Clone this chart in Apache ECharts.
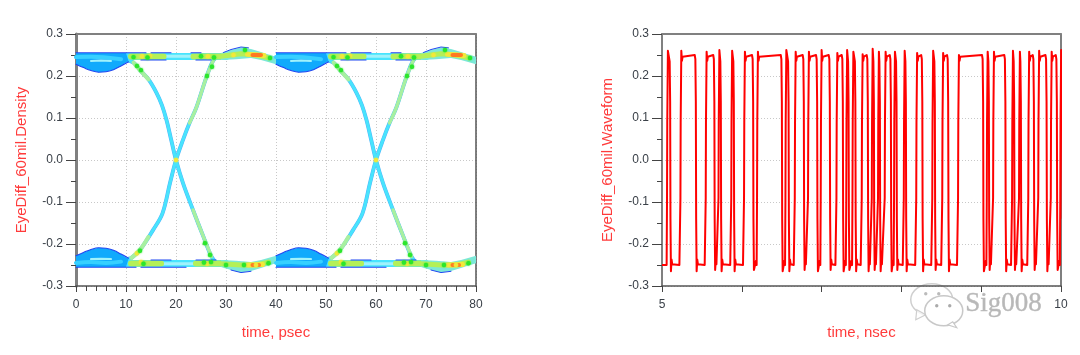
<!DOCTYPE html>
<html><head><meta charset="utf-8">
<style>html,body{margin:0;padding:0;background:#fff}#c{width:1080px;height:355px}</style>
<script src="https://cdn.jsdelivr.net/npm/echarts@6/dist/echarts.min.js"></script>
</head><body><div id="c"></div>
<script>
// ---------- tick labels / axis text
const eyeXTicks = [0, 10, 20, 30, 40, 50, 60, 70, 80];
const yTickValues = [-0.3, -0.2, -0.1, 0, 0.1, 0.2, 0.3];
const wavePeriodLabels = [5, 10];
const eyePeriod = 40;

// ---------- eye diagram, one 40 ps period (x ps, y V); the second period repeats it
const lensTop = [[0,.255],[10,.255],[10.5,.236],[9,.224],[7.5,.215],[6,.21],[4.5,.209],[3,.213],[1.5,.22],[0,.228]];
const lensTopEdge = [[0,.228],[1.5,.22],[3,.213],[4.5,.209],[6,.21],[7.5,.215],[9,.224],[10.5,.234]];
const lensTopMid = [[0,.245],[3,.246],[6,.244],[9,.24]];
const lensTopCore = [[3,.236],[5,.237],[7,.236]];
const lensBottom = [[0,-.255],[10,-.255],[10.5,-.236],[9,-.224],[7.5,-.215],[6,-.21],[4.5,-.209],[3,-.213],[1.5,-.22],[0,-.228]];
const lensBottomEdge = [[0,-.228],[1.5,-.22],[3,-.213],[4.5,-.209],[6,-.21],[7.5,-.215],[9,-.224],[10.5,-.234]];
const lensBottomMid = [[0,-.245],[3,-.243],[6,-.245],[9,-.242]];
const lensBottomCore = [[3,-.236],[5,-.235],[7,-.236]];
const railTop = [[9,.2465],[30,.2465]];
const railBottom = [[9,-.2465],[30,-.2465]];
const railTopLime = [[11,.2465],[17.5,.2465]];
const railTopLime2 = [[23.5,.2465],[29.5,.2465]];
const railBottomLime = [[11,-.2465],[17,-.2465]];
const railBottomLime2 = [[24,-.2465],[29.5,-.2465]];
const railTopCore = [[17,.247],[23.5,.247]];
const railBottomCore = [[17,-.247],[23.5,-.247]];
const topBlueEdges = [[[0,.2555],[14,.2555]],[[15,.2555],[19,.2555]],[[23,.2555],[25,.2555]],[[13,.238],[18,.238]],[[24,.238],[27,.238]]];
const bottomBlueEdges = [[[0,-.2555],[12,-.2555]],[[15,-.238],[19,-.238]],[[13,-.2555],[22,-.2555]],[[24,-.238],[28,-.238]]];
const bumpTop = [[29,.255],[31,.262],[33,.268],[35,.264],[37,.257],[38.5,.251],[40,.246],[40,.228],[37,.238],[35,.243],[32,.24],[29,.238]];
const bumpBottom = [[29,-.255],[31,-.262],[33,-.268],[35,-.264],[37,-.257],[38.5,-.251],[40,-.246],[40,-.228],[37,-.238],[35,-.243],[32,-.24],[29,-.238]];
const bumpTopEdge = [[29.5,.256],[31,.263],[33,.269],[34.5,.267]];
const bumpBottomEdge = [[31,-.262],[33,-.268],[35,-.265]];
const bumpTopLime = [[29,.247],[33,.253],[36,.25],[38.5,.243]];
const bumpBottomLime = [[29,-.247],[33,-.25],[36,-.25],[38.5,-.243]];
const bumpTopHot = [[34.3,.252],[37.6,.249]];
const bumpBottomHot = [[34.3,-.25],[37.3,-.249]];
const bumpTopRed = [[35.3,.25],[37,.25]];
const bumpBottomRed = [[35.3,-.25],[36.6,-.25]];
const fallTrace = [[10,.238],[11.5,.232],[12.8,.214],[14.5,.192],[16.1,.16],[17.2,.13],[18.1,.095],[19,.05],[20,0],[21.4,-.055],[23.4,-.119],[25.5,-.183],[27.1,-.23],[28.2,-.246]];
const riseTrace = [[10.5,-.235],[11.1,-.233],[12.8,-.214],[15.4,-.167],[17.3,-.127],[18.8,-.055],[20,0],[21.4,.048],[22.7,.088],[24.1,.126],[26.1,.198],[27.5,.238],[28.5,.247]];
const fallTopLime = [[11.5,.232],[12.8,.214],[14.5,.192]];
const fallBottomLime = [[23.4,-.119],[25.5,-.183],[27.1,-.23]];
const riseTopLime = [[22.7,.088],[24.1,.126],[26.1,.198],[27.5,.238]];
const riseBottomLime = [[11.1,-.233],[12.8,-.214],[14.5,-.183]];
const greenSpots = [[12.2,.224],[13,.214],[11.5,.245],[14.3,.244],[25,.247],[27.6,.244],[26.2,.2],[27.2,.222],[33.8,.262],[38.8,.243],
  [12.8,-.216],[13.5,-.247],[25.6,-.244],[27,-.243],[26.8,-.226],[25.8,-.198],[30,-.25],[33.6,-.25],[38.5,-.246]];
const yellowSpots = [[13.2,.247],[14.8,.248],[20,0],[26.4,.247],[31.5,.25],[13,-.243],[12.2,-.222],[26.2,-.247],[36,-.25]];

// ---------- waveform: edges (nsec)
const waveRise = [5.066,5.234,5.551,5.711,5.871,6.031,6.194,6.550,6.667,6.833,6.992,7.189,7.312,7.390,7.506,7.632,7.710,7.794,7.911,8.033,8.189,8.390,8.515,8.713,9.073,9.152,9.390,9.477,9.593,9.718,9.875,9.994];
const waveFall = [5.104,5.426,5.658,5.739,5.902,6.144,6.504,6.588,6.779,6.946,7.105,7.268,7.340,7.425,7.581,7.657,7.732,7.870,7.941,8.058,8.264,8.421,8.588,9.026,9.098,9.305,9.415,9.499,9.662,9.821,9.950,10.02];
const wavePeakHigh = [.26,.26,.258,.262,.26,.258,.258,.262,.258,.258,.262,.255,.262,.258,.252,.265,.258,.258,.258,.26,.255,.26,.255,.25,.258,.258,.26,.258,.258,.26,.258,.262];
const wavePeakLow = [-.25,-.265,-.265,-.262,-.265,-.265,-.262,-.265,-.265,-.262,-.265,-.262,-.265,-.262,-.265,-.265,-.262,-.265,-.265,-.262,-.265,-.265,-.262,-.265,-.265,-.262,-.265,-.262,-.265,-.262,-.265,-.262];
const levelHigh = 0.25, levelLow = -0.25, stepUp = 0.09, stepDown = 0.14, slew = 0.008;

const wavePoints = [[5, levelLow]];
waveRise.forEach((r, i) => {
  const f = waveFall[i], wide = f - r > 0.05;
  wavePoints.push([r - slew, levelLow], [r - 0.003, -stepUp], [r, stepUp], [r + slew, wavePeakHigh[i]]);
  if (wide) wavePoints.push([r + 2 * slew, 0.236], [r + 3 * slew, 0.246], [f - 2 * slew, levelHigh], [f - slew, 0.24]);
  else wavePoints.push([f - slew, 0.235]);
  wavePoints.push([f - 0.002, stepDown], [f + 0.002, -stepDown]);
  const next = waveRise[i + 1];
  if (next !== undefined) {
    wavePoints.push([f + slew, wavePeakLow[i + 1]]);
    if (next - f > 0.05) wavePoints.push([f + 2 * slew, -0.237], [f + 3 * slew, -0.248], [next - 2 * slew, levelLow]);
    else wavePoints.push([next - 2 * slew, -0.24]);
  }
});

// ---------- helpers
const shift = p => p.map(q => [q[0] + eyePeriod, q[1]]);
const BLUE = '#1f46f2', AZURE = '#10aafc', SKY = '#36d0ff', CYAN = '#48e4fd', PALE = '#a0f2fb', LIME = '#b4f058', PASTEL = '#a8f0a0', YEL = '#f2e83a', ORG = '#ff7a22', GRN = '#2ce62c', BUMP = '#7ce8d8';

let zOrder = 3;
function line(pts, color, width, smooth) {
  return {type:'line', z:++zOrder, xAxisIndex:0, yAxisIndex:0, data:pts, showSymbol:false, silent:true, animation:false, clip:true, smooth:smooth||false,
    lineStyle:{color, width, cap:'round', join:'round'}, itemStyle:{color}};
}
function poly(pts, color) {
  return {type:'custom', z:++zOrder, xAxisIndex:0, yAxisIndex:0, coordinateSystem:'cartesian2d', data:pts, encode:{x:0,y:1}, silent:true, animation:false, clip:true,
    renderItem:(params, api) => params.dataIndex === 0 ? {type:'polygon', shape:{points:pts.map(p => api.coord(p))}, style:{fill:color}} : null};
}
function spots(pts, color) {
  return {type:'custom', z:++zOrder, xAxisIndex:0, yAxisIndex:0, coordinateSystem:'cartesian2d', data:pts, encode:{x:0,y:1}, silent:true, animation:false, clip:true,
    renderItem:(params, api) => {
      const c = api.coord([api.value(0), api.value(1)]);
      return {type:'circle', shape:{cx:c[0], cy:c[1], r:2.2}, style:{fill:color, shadowBlur:2, shadowColor:color}};
    }};
}
const per = (p, second) => second ? shift(p) : p;

const eyeSeries = [];
[false, true].forEach(s => {
  const L = (p,c,w,sm) => eyeSeries.push(line(per(p,s),c,w,sm));
  const P = (p,c) => eyeSeries.push(poly(per(p,s),c));
  // crossing traces, soft blue rim first
  L(fallTrace, '#52b4fa', 3.9, .35); L(riseTrace, '#52b4fa', 3.9, .35);
  L(fallTrace, CYAN, 3, .35); L(riseTrace, CYAN, 3, .35);
  L(fallTopLime, PASTEL, 4, .35); L(fallBottomLime, PASTEL, 3.4, .35); L(riseTopLime, PASTEL, 3.4, .35); L(riseBottomLime, PASTEL, 4, .35);
  // rails
  L(railTop, CYAN, 7); L(railBottom, CYAN, 7);
  L(railTopCore, PALE, 3); L(railBottomCore, PALE, 3);
  L(railTopLime, LIME, 6); L(railTopLime2, LIME, 6); L(railBottomLime, LIME, 6); L(railBottomLime2, LIME, 6);
  // bump
  P(bumpTop, BUMP); P(bumpBottom, BUMP);
  L(bumpTopEdge, BLUE, 1); L(bumpBottomEdge, BLUE, 1);
  L(bumpTopLime, LIME, 5); L(bumpBottomLime, LIME, 5);
  L(bumpTopHot, YEL, 5); L(bumpBottomHot, YEL, 5);
  L(bumpTopRed, ORG, 4); L(bumpBottomRed, ORG, 4);
  // lenses
  P(lensTop, AZURE); P(lensBottom, AZURE);
  L(lensTopMid, SKY, 4, .4); L(lensBottomMid, SKY, 4, .4);
  L(lensTopCore, PALE, 2); L(lensBottomCore, PALE, 2);
  L(lensTopEdge, BLUE, 1.1, .4); L(lensBottomEdge, BLUE, 1.1, .4);
  topBlueEdges.concat(bottomBlueEdges).forEach(e => L(e, BLUE, 1.1));
  // density spots
  eyeSeries.push(spots(per(yellowSpots,s), YEL));
  eyeSeries.push(spots(per(greenSpots,s), GRN));
});

// ---------- axes
const FONT = '"Liberation Sans", Arial, sans-serif';
const RED = '#ff3b3b', TXT = '#3a4048';
const gridLine = {show:true, lineStyle:{color:'#c8c8c8', width:1, type:[1,2]}};
const yAxisFor = (gi, name) => ({
  gridIndex:gi, type:'value', min:-0.3, max:0.3, interval:0.1,
  name, nameLocation:'middle', nameGap:47, nameTextStyle:{color:RED, fontFamily:FONT, fontSize:15},
  axisLine:{show:true, onZero:false, lineStyle:{color:'#808080', width:gi===0?3:2}},
  axisTick:{show:true, length:10, lineStyle:{color:'#444', width:1}},
  minorTick:{show:true, splitNumber:2, length:5, lineStyle:{color:'#444', width:1}},
  axisLabel:{margin:13, color:TXT, fontFamily:FONT, fontSize:12, formatter:v => (Math.abs(v)<1e-9?0:v).toFixed(1)},
  splitLine:gridLine
});
const rightSpine = gi => ({gridIndex:gi, type:'value', position:'right', min:-0.3, max:0.3, interval:0.3,
  axisLine:{show:true, onZero:false, lineStyle:{color:'#555', width:1.5}}, axisTick:{show:false}, axisLabel:{show:false}, splitLine:{show:false}});
const topSpine = (gi, min, max) => ({gridIndex:gi, type:'value', position:'top', min, max,
  axisLine:{show:true, onZero:false, lineStyle:{color:'#808080', width:2}}, axisTick:{show:false}, axisLabel:{show:false}, splitLine:{show:false}});

const option = {
  backgroundColor:'#fff', animation:false,
  grid:[{left:76, top:34, width:400, height:252}, {left:662, top:34, width:399, height:252}],
  xAxis:[
    {gridIndex:0, type:'value', min:eyeXTicks[0], max:eyeXTicks[eyeXTicks.length-1], interval:10,
      name:'time, psec', nameLocation:'middle', nameGap:39, nameTextStyle:{color:RED, fontFamily:FONT, fontSize:15},
      axisLine:{show:true, onZero:false, lineStyle:{color:'#555', width:1.5}},
      axisTick:{show:true, length:6, lineStyle:{color:'#444'}},
      minorTick:{show:true, splitNumber:5, length:5, lineStyle:{color:'#444'}},
      axisLabel:{margin:13, color:TXT, fontFamily:FONT, fontSize:12}, splitLine:gridLine},
    {gridIndex:1, type:'value', min:wavePeriodLabels[0], max:wavePeriodLabels[1], interval:1,
      name:'time, nsec', nameLocation:'middle', nameGap:39, nameTextStyle:{color:RED, fontFamily:FONT, fontSize:15},
      axisLine:{show:true, onZero:false, lineStyle:{color:'#555', width:1.5}},
      axisTick:{show:true, length:6, lineStyle:{color:'#444'}},
      axisLabel:{margin:13, color:TXT, fontFamily:FONT, fontSize:12, formatter:v => wavePeriodLabels.includes(v) ? String(v) : ''},
      splitLine:{show:false}},
    topSpine(0, 0, 80), topSpine(1, 5, 10)
  ],
  yAxis:[
    yAxisFor(0, 'EyeDiff_60mil.Density'), yAxisFor(1, 'EyeDiff_60mil.Waveform'),
    rightSpine(0), rightSpine(1)
  ],
  series: eyeSeries.concat([
    {type:'line', xAxisIndex:1, yAxisIndex:1, data:wavePoints, showSymbol:false, silent:true, animation:false, clip:true,
      lineStyle:{color:'#ff0000', width:2, join:'round'}}
  ]),
  graphic:[
    {type:'group', left:910, top:283, silent:true, z:1000, children:[
      {type:'ellipse', shape:{cx:22, cy:16, rx:21, ry:16}, style:{fill:'rgba(255,255,255,.75)', stroke:'#cfcfcf', lineWidth:1.5}},
      {type:'polygon', shape:{points:[[7,26],[6,36],[16,31]]}, style:{fill:'rgba(255,255,255,.75)', stroke:'#cfcfcf', lineWidth:1.2}},
      {type:'circle', shape:{cx:16, cy:10, r:1.7}, style:{fill:'#bbb'}},
      {type:'circle', shape:{cx:29, cy:10, r:1.7}, style:{fill:'#bbb'}},
      {type:'ellipse', shape:{cx:34, cy:27, rx:19, ry:15}, style:{fill:'#fff', stroke:'#c8c8c8', lineWidth:1.5}},
      {type:'polygon', shape:{points:[[43,38],[47,44],[38,41]]}, style:{fill:'#fff', stroke:'#c8c8c8', lineWidth:1.2}},
      {type:'circle', shape:{cx:27, cy:22, r:1.7}, style:{fill:'#aaa'}},
      {type:'circle', shape:{cx:40, cy:22, r:1.7}, style:{fill:'#aaa'}}
    ]},
    {type:'text', left:965, top:290, silent:true, z:1000, style:{text:'Sig008', font:'27px "Liberation Serif", serif', fill:'#b8b8b8', stroke:'rgba(120,120,120,.5)', lineWidth:0.4}}
  ]
};
echarts.init(document.getElementById('c'), null, {renderer:'canvas'}).setOption(option);
</script></body></html>
